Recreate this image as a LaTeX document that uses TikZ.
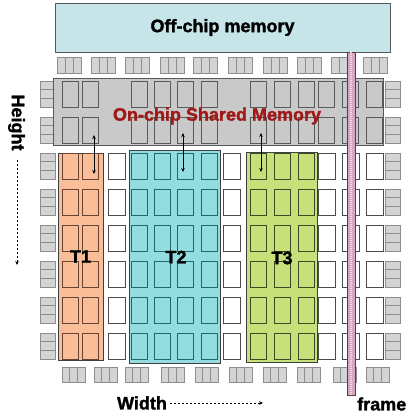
\documentclass[tikz,border=0pt]{standalone}
\usepackage{fontspec}
\setmainfont{Liberation Sans}[BoldFeatures={FakeBold=1.6}]
\usepackage{xcolor}
\usetikzlibrary{arrows.meta}
\definecolor{offfill}{HTML}{C6E5E9}
\definecolor{shfill}{HTML}{C9C9C9}
\definecolor{iofill}{HTML}{D4D4D4}
\definecolor{iodraw}{HTML}{8E8E8E}
\definecolor{tone}{HTML}{F9BD98}
\definecolor{tonedk}{HTML}{6A4430}
\definecolor{ttwo}{HTML}{93DDE0}
\definecolor{ttwodk}{HTML}{1F6A6A}
\definecolor{tthree}{HTML}{C8E07A}
\definecolor{tthreedk}{HTML}{3E4A22}
\definecolor{frfill}{HTML}{D9A6C2}
\definecolor{frdraw}{HTML}{5A3A4A}
\definecolor{shred}{HTML}{A01818}

\begin{document}
\begin{tikzpicture}[x=1pt, y=-1pt, font=\bfseries\fontsize{18}{20}\selectfont,
  box/.style={draw=black!65, line width=0.8pt},
  iob/.style={draw=iodraw, fill=iofill, line width=0.6pt},
  gcell/.style={draw=black!65, fill=shfill, line width=0.8pt},
  wcell/.style={draw=black!70, fill=white, line width=0.8pt},
  reg/.style={draw=black!75, line width=0.8pt, inner sep=0pt},
  darr/.style={{Stealth[length=4pt,width=3.5pt]}-{Stealth[length=4pt,width=3.5pt]}, line width=0.7pt},
  dotarr/.style={-{Stealth[length=4pt,width=3.5pt]}, line width=0.8pt, dash pattern=on 2pt off 2pt}]
\useasboundingbox (0,0) rectangle (405,414);
% off-chip memory
\node[box, fill=offfill, minimum width=335, minimum height=49, inner sep=0pt] (off) at (222.5,27.5) {};
\node (offlbl) at (off.center) {Off-chip memory};
% I/O blocks
\foreach \x in {57,91,125,160,193,228,263,297,331,363} {
  \draw[iob] (\x,57) rectangle ++(24,16);
  \draw[iodraw, line width=0.6pt] (\x+8,57) -- ++(0,16) (\x+16,57) -- ++(0,16);
}
\foreach \x in {62,94,125,161,195,229,263,297,333,366} {
  \draw[iob] (\x,367) rectangle ++(23,15);
  \draw[iodraw, line width=0.6pt] (\x+7.7,367) -- ++(0,15) (\x+15.3,367) -- ++(0,15);
}
\foreach \y in {81,117,153,189,225,261,297,333}
  \foreach \x in {40,385} {
    \draw[iob] (\x,\y) rectangle ++(15,26);
    \draw[iodraw, line width=0.6pt] (\x,\y+8.7) -- ++(15,0) (\x,\y+17.3) -- ++(15,0);
  }
% on-chip shared memory
\node[box, fill=shfill, minimum width=330, minimum height=67, inner sep=0pt] (shm) at (218,111.5) {};
\foreach \x in {62,82,131,154,177,201,250,274,298,318,342,366}
  \foreach \y in {81,117}
    \draw[gcell] (\x,\y) rectangle ++(16,26);
% tasks
\node[reg, fill=tone, minimum width=45, minimum height=207] (t1) at (80.5,256.5) {};
\node[reg, fill=ttwo, minimum width=91, minimum height=213] (t2) at (174.5,256.5) {};
\node[reg, fill=tthree, minimum width=71, minimum height=210] (t3) at (281.5,257) {};
\foreach \y in {153,189,225,261,297,333} {
  \foreach \x in {62,82} \draw[tonedk, line width=0.8pt] (\x,\y) rectangle ++(16,26);
  \foreach \x in {131,154,177,201} \draw[ttwodk, line width=0.8pt] (\x,\y) rectangle ++(16,26);
  \foreach \x in {250,274,298} \draw[tthreedk, line width=0.8pt] (\x,\y) rectangle ++(16,26);
  \foreach \x in {108,223,318,342,366} \draw[wcell] (\x,\y) rectangle ++(17,26);
}
\node (t1lbl) at (t1.center) {T1};
\node (t2lbl) at (176,257) {T2};
\node (t3lbl) at (282,258) {T3};
\node[text=shred] (shlbl) at (217,116) {On-chip Shared Memory};
% transfers
\coordinate (a1) at (94,135); \coordinate (b1) at (94,174);
\coordinate (a2) at (183,133); \coordinate (b2) at (183,172);
\coordinate (a3) at (261,133); \coordinate (b3) at (261,172);
\draw[darr] (a1) -- (b1);
\draw[darr] (a2) -- (b2);
\draw[darr] (a3) -- (b3);
% frame
\node[draw=frdraw, fill=frfill, line width=0.7pt, minimum width=8, minimum height=343, inner sep=0pt] (fr) at (351,223.5) {};
\draw[white!60!frfill, line width=2pt, dash pattern=on 1pt off 1pt] (fr.north) -- (fr.south);
\node[anchor=west, inner sep=0pt] (frlbl) at (357,404) {frame};
% axes
\node[rotate=-90, inner sep=0pt] (hgt) at (16.5,122.5) {Height};
\coordinate (hend) at (17,265);
\draw[dotarr] (17,160) -- (hend);
\node[inner sep=0pt] (wdt) at (142,403) {Width};
\coordinate (wend) at (263,403);
\draw[dotarr] (wdt.east) ++(3,0) -- (wend);
\end{tikzpicture}
\end{document}
